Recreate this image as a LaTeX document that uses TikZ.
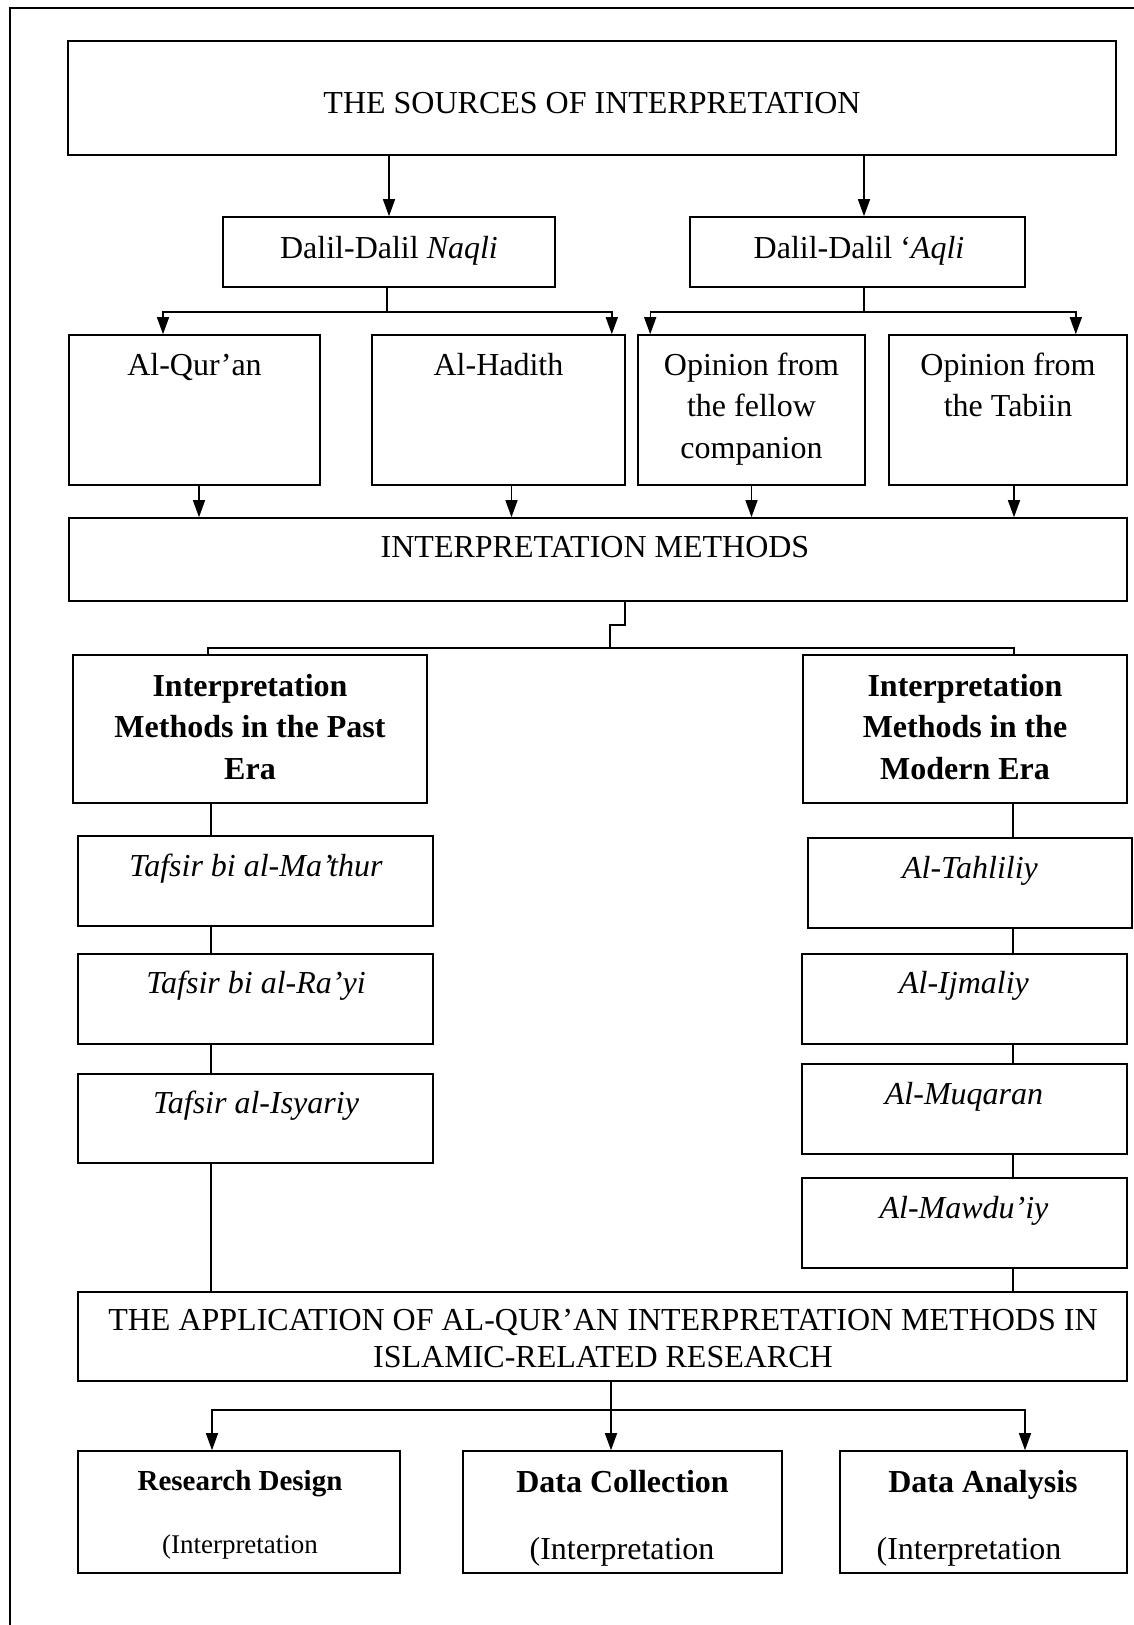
\documentclass[tikz,border=0pt]{standalone}
\usepackage{fontspec}
\setmainfont{Liberation Serif}
\usetikzlibrary{arrows.meta,fit}
\newcommand\ml[1]{\begin{tabular}[t]{@{}c@{}}#1\end{tabular}}
\tikzset{
  box/.style={draw, line width=1.6pt, inner sep=0pt},
  txt/.style={inner sep=0pt, anchor=base, font=\fontsize{32}{41.5}\selectfont},
  txtsm/.style={inner sep=0pt, anchor=base, font=\fontsize{29}{36}\selectfont},
  conn/.style={line width=1.4pt},
  arr/.style={conn, -{Triangle[length=17pt,width=12pt]}},
  frame/.style={line width=1.5pt}
}
\begin{document}
\begin{tikzpicture}[x=1pt,y=-1pt]
\useasboundingbox (0,0) rectangle (1134,1625);
\draw[frame] (1134,8) -- (10,8) -- (10,1625);

% boxes
\node[box, fit={(68,41) (1116,155)}] (top) {};
\node[box, fit={(223,217) (555,287)}] (naqli) {};
\node[box, fit={(690,217) (1025,287)}] (aqli) {};
\node[box, fit={(69,335) (320,485)}] (quran) {};
\node[box, fit={(372,335) (625,485)}] (hadith) {};
\node[box, fit={(638,335) (865,485)}] (fellow) {};
\node[box, fit={(889,335) (1127,485)}] (tabiin) {};
\node[box, fit={(69,518) (1127,601)}] (im) {};
\node[box, fit={(73,655) (427,803)}] (past) {};
\node[box, fit={(803,655) (1127,803)}] (modern) {};
\node[box, fit={(78,836) (433,926)}] (mathur) {};
\node[box, fit={(78,954) (433,1044)}] (rayi) {};
\node[box, fit={(78,1074) (433,1163)}] (isyariy) {};
\node[box, fit={(808,838) (1132,928)}] (tahliliy) {};
\node[box, fit={(802,954) (1127,1044)}] (ijmaliy) {};
\node[box, fit={(802,1064) (1127,1154)}] (muqaran) {};
\node[box, fit={(802,1178) (1127,1268)}] (mawduiy) {};
\node[box, fit={(78,1292) (1127,1381)}] (app) {};
\node[box, fit={(78,1451) (400,1573)}] (rd) {};
\node[box, fit={(463,1451) (782,1573)}] (dc) {};
\node[box, fit={(840,1451) (1127,1573)}] (da) {};

% texts
\node[txt] (top-t) at (592,113) {THE SOURCES OF INTERPRETATION};
\node[txt] (naqli-t) at (389,258) {Dalil-Dalil \textit{Naqli}};
\node[txt] (aqli-t) at (859,258) {Dalil-Dalil ‘\textit{Aqli}};
\node[txt] (quran-t) at (194.5,375) {Al-Qur’an};
\node[txt] (hadith-t) at (498.5,375) {Al-Hadith};
\node[txt] (fellow-t) at (751.5,375) {\ml{Opinion from\\the fellow\\companion}};
\node[txt] (tabiin-t) at (1008,375) {\ml{Opinion from\\the Tabiin}};
\node[txt] (im-t) at (595,557) {INTERPRETATION METHODS};
\node[txt] (past-t) at (250,696) {\ml{\textbf{Interpretation}\\\textbf{Methods in the Past}\\\textbf{Era}}};
\node[txt] (modern-t) at (965,696) {\ml{\textbf{Interpretation}\\\textbf{Methods in the}\\\textbf{Modern Era}}};
\node[txt] (mathur-t) at (256,876) {\textit{Tafsir bi al-Ma’thur}};
\node[txt] (rayi-t) at (256,993) {\textit{Tafsir bi al-Ra’yi}};
\node[txt] (isyariy-t) at (256,1113) {\textit{Tafsir al-Isyariy}};
\node[txt] (tahliliy-t) at (970,878) {\textit{Al-Tahliliy}};
\node[txt] (ijmaliy-t) at (964,993) {\textit{Al-Ijmaliy}};
\node[txt] (muqaran-t) at (964,1104) {\textit{Al-Muqaran}};
\node[txt] (mawduiy-t) at (964,1218) {\textit{Al-Mawdu’iy}};
\node[txt, font=\fontsize{32}{37}\selectfont] (app-t) at (603,1330) {\ml{THE APPLICATION OF AL-QUR’AN INTERPRETATION METHODS IN\\ISLAMIC-RELATED RESEARCH}};
\node[txtsm] (rd-t1) at (240,1490) {\textbf{Research Design}};
\node[txt, font=\fontsize{27}{32}\selectfont] (rd-t2) at (240,1553) {(Interpretation};
\node[txt] (dc-t1) at (622.5,1492) {\textbf{Data Collection}};
\node[txt] (dc-t2) at (622,1559) {(Interpretation};
\node[txt] (da-t1) at (983,1492) {\textbf{Data Analysis}};
\node[txt] (da-t2) at (969,1559) {(Interpretation};

% connectors
\draw[arr] (naqli.north |- top.south) -- (naqli.north);
\draw[arr] ([xshift=6.5pt]aqli.north |- top.south) -- ([xshift=6.5pt]aqli.north);

\draw[conn] ([xshift=-2pt]naqli.south) -- ++(0,24) coordinate (nj);
\draw[arr] (nj) -| ([xshift=-31.5pt]quran.north);
\draw[arr] (nj) -| ([xshift=-14pt]hadith.north east);
\draw[conn] ([xshift=6.5pt]aqli.south) -- ++(0,24) coordinate (aj);
\draw[arr] (aj) -| ([xshift=13pt]fellow.north west);
\draw[arr] (aj) -| ([xshift=-52pt]tabiin.north east);

\draw[arr] ([xshift=4.5pt]quran.south) -- ([xshift=4.5pt]quran.south |- im.north);
\draw[arr] ([xshift=13pt]hadith.south) -- ([xshift=13pt]hadith.south |- im.north);
\draw[arr] (fellow.south) -- (fellow.south |- im.north);
\draw[arr] ([xshift=6pt]tabiin.south) -- ([xshift=6pt]tabiin.south |- im.north);

\draw[conn] ([xshift=27pt]im.south) -- ++(0,23) -- ++(-15,0) -- ++(0,23) coordinate (mj);
\draw[conn] ([xshift=-42pt]past.north) |- (mj) -| ([xshift=49pt]modern.north);

\coordinate (lc) at (211,0);
\coordinate (rc) at (1013,0);
\draw[conn] (lc |- past.south) -- (lc |- mathur.north);
\draw[conn] (lc |- mathur.south) -- (lc |- rayi.north);
\draw[conn] (lc |- rayi.south) -- (lc |- isyariy.north);
\draw[conn] (lc |- isyariy.south) -- (lc |- app.north);
\draw[conn] (rc |- modern.south) -- (rc |- tahliliy.north);
\draw[conn] (rc |- tahliliy.south) -- (rc |- ijmaliy.north);
\draw[conn] (rc |- ijmaliy.south) -- (rc |- muqaran.north);
\draw[conn] (rc |- muqaran.south) -- (rc |- mawduiy.north);
\draw[conn] (rc |- mawduiy.south) -- (rc |- app.north);

\draw[conn] ([xshift=8.5pt]app.south) -- ++(0,28) coordinate (bj);
\draw[arr] (bj) -| ([xshift=-27pt]rd.north);
\draw[arr] (bj) -- (bj |- dc.north);
\draw[arr] (bj) -| ([xshift=41.5pt]da.north);
\end{tikzpicture}
\end{document}
